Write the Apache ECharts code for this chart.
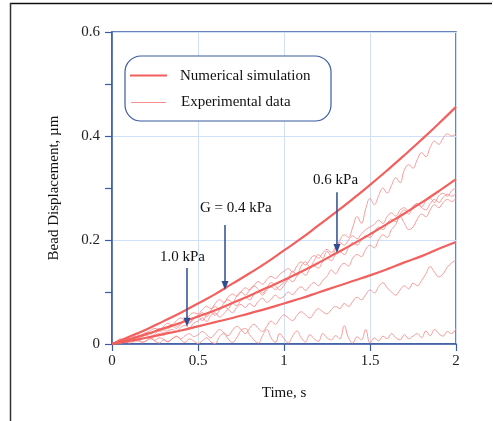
<!DOCTYPE html>
<html><head><meta charset="utf-8">
<script src="https://cdn.jsdelivr.net/npm/echarts@6/dist/echarts.min.js"></script>
<style>html,body{margin:0;padding:0;background:#fff}#c{width:493px;height:421px}</style>
</head><body><div id="c"></div>
<script>
// ---------- data ----------
const simTime = [0,0.1,0.2,0.3,0.4,0.5,0.6,0.7,0.8,0.9,1.0,1.1,1.2,1.3,1.4,1.5,1.6,1.7,1.8,1.9,2.0];
const simG04 = [0,0.014,0.028,0.044,0.060,0.078,0.096,0.116,0.136,0.157,0.180,0.203,0.228,0.253,0.279,0.306,0.334,0.363,0.393,0.424,0.456];
const simG06 = [0,0.009,0.019,0.030,0.041,0.053,0.065,0.079,0.093,0.108,0.123,0.139,0.156,0.174,0.192,0.211,0.231,0.251,0.272,0.294,0.317];
const simG10 = [0,0.006,0.012,0.019,0.026,0.034,0.042,0.050,0.059,0.068,0.078,0.088,0.099,0.110,0.121,0.132,0.144,0.157,0.169,0.183,0.196];

const expStep = 0.025; // experimental samples every 0.025 s from 0 to 2 s
const expA = [0,0.004,0.008,0.006,0.012,0.015,0.012,0.018,0.022,0.019,0.025,0.03,0.026,0.032,0.038,0.034,0.04,0.046,0.042,0.05,0.055,
  0.06,0.052,0.065,0.072,0.066,0.078,0.085,0.08,0.092,0.1,0.094,0.104,0.112,0.105,0.098,0.108,0.118,0.112,0.104,0.113,
  0.125,0.14,0.132,0.15,0.158,0.148,0.16,0.172,0.165,0.178,0.17,0.182,0.2,0.21,0.205,0.225,0.245,0.232,0.26,0.28,
  0.268,0.285,0.3,0.29,0.305,0.32,0.31,0.335,0.345,0.338,0.355,0.368,0.36,0.378,0.39,0.384,0.396,0.404,0.4,0.405];
const expB = [0,0.003,0.007,0.01,0.008,0.014,0.018,0.015,0.022,0.026,0.03,0.027,0.034,0.04,0.036,0.045,0.05,0.046,0.055,0.06,0.058,
  0.066,0.072,0.068,0.078,0.085,0.08,0.09,0.096,0.092,0.1,0.108,0.104,0.112,0.12,0.115,0.124,0.13,0.126,0.134,0.14,
  0.145,0.138,0.15,0.158,0.152,0.162,0.17,0.165,0.175,0.182,0.176,0.186,0.195,0.19,0.2,0.208,0.202,0.212,0.22,0.225,
  0.23,0.238,0.232,0.245,0.252,0.246,0.258,0.262,0.255,0.265,0.27,0.264,0.275,0.28,0.272,0.285,0.29,0.284,0.295,0.3];
const expC = [0,0.002,0.005,0.003,0.008,0.011,0.009,0.014,0.017,0.013,0.02,0.025,0.021,0.028,0.034,0.03,0.038,0.044,0.04,0.048,0.052,
  0.045,0.056,0.062,0.055,0.065,0.072,0.068,0.078,0.074,0.084,0.09,0.085,0.095,0.1,0.094,0.104,0.11,0.105,0.112,0.118,
  0.125,0.12,0.13,0.138,0.132,0.144,0.15,0.146,0.158,0.165,0.16,0.172,0.178,0.172,0.185,0.195,0.19,0.2,0.208,0.205,
  0.215,0.225,0.22,0.232,0.24,0.235,0.25,0.258,0.25,0.262,0.27,0.262,0.258,0.27,0.278,0.272,0.282,0.288,0.284,0.29];
const expD = [0,0.002,0.004,0.002,0.006,0.008,0.005,0.01,0.013,0.01,0.016,0.02,0.017,0.024,0.028,0.024,0.032,0.036,0.031,0.04,0.044,
  0.05,0.043,0.055,0.06,0.052,0.058,0.066,0.06,0.07,0.076,0.07,0.078,0.072,0.082,0.088,0.08,0.086,0.094,0.088,0.092,
  0.1,0.095,0.104,0.11,0.103,0.112,0.118,0.112,0.122,0.13,0.142,0.135,0.148,0.155,0.15,0.165,0.172,0.168,0.182,0.19,
  0.185,0.2,0.21,0.205,0.22,0.23,0.245,0.232,0.22,0.225,0.24,0.25,0.245,0.258,0.268,0.262,0.272,0.278,0.274,0.28];
const expE = [0,0.003,0.001,0.004,0.002,0.005,0.008,0.004,0.006,0.01,0.007,0.012,0.009,0.005,0.01,0.014,0.01,0.016,0.02,0.014,0.018,
  0.024,0.018,0.012,0.02,0.028,0.022,0.016,0.026,0.034,0.028,0.02,0.03,0.038,0.03,0.024,0.034,0.044,0.038,0.048,0.056,
  0.05,0.045,0.055,0.062,0.056,0.05,0.06,0.068,0.062,0.058,0.066,0.072,0.068,0.078,0.072,0.082,0.09,0.085,0.095,0.104,
  0.098,0.11,0.118,0.108,0.1,0.094,0.104,0.112,0.106,0.117,0.112,0.122,0.135,0.149,0.138,0.129,0.135,0.148,0.156,0.162];
const expF = [0,0.005,0.01,0.006,0.012,0.004,0.008,0.002,0.007,0.012,0.005,0.002,0.008,0.004,0.01,0.015,0.008,0.003,0.01,0.006,0.001,
  0.006,0.012,0.004,0.001,0.014,0.02,0.01,0.003,0.012,0.026,0.03,0.018,0.008,0.002,0.016,0.028,0.012,0.003,0.02,0.01,
  0.002,0.015,0.025,0.012,0.004,0.018,0.01,0.005,0.02,0.012,0.008,0.016,0.01,0.035,0.012,0.002,0.014,0.008,0.028,0.002,
  0.012,0.006,0.015,0.01,0.02,0.012,0.008,0.018,0.01,0.015,0.02,0.012,0.025,0.016,0.028,0.02,0.015,0.024,0.02,0.03];

const xTicks = [0, 0.5, 1, 1.5, 2];
const yTicks = [0, 0.2, 0.4, 0.6];
const annotations = [
  {text: 'G = 0.4 kPa', x: 0.657, yFrom: 0.229, yTo: 0.104, labelY: 0.262, labelX: 0.72},
  {text: '1.0 kPa',     x: 0.436, yFrom: 0.146, yTo: 0.033, labelY: 0.168, labelX: 0.41},
  {text: '0.6 kPa',     x: 1.308, yFrom: 0.292, yTo: 0.175, labelY: 0.315, labelX: 1.30}
];

// ---------- build ----------
const AXIS = '#3a5ba0', GRIDC = '#cfe0f8', SIM = '#f2605e', EXP = '#f69090', ARROW = '#2d4d90';
const FONT = '"Liberation Serif", "Times New Roman", serif';
const FS = 15;
const pair = (xs, ys) => ys.map((v, i) => [xs[i], v]);
const expPair = ys => ys.map((v, i) => [+(i * expStep).toFixed(3), v]);

const series = [];
[expA, expB, expC, expD, expE, expF].forEach(d => series.push({
  name: 'Experimental data', type: 'line', data: expPair(d), showSymbol: false, smooth: 0.4,
  lineStyle: {color: EXP, width: 0.9}, z: 2, silent: true
}));
[simG04, simG06, simG10].forEach(d => series.push({
  name: 'Numerical simulation', type: 'line', data: pair(simTime, d), showSymbol: false, smooth: true,
  lineStyle: {color: SIM, width: 2.2}, z: 3, silent: true
}));

const chart = echarts.init(document.getElementById('c'), null, {renderer: 'canvas'});
chart.setOption({
  animation: false,
  grid: {left: 112, top: 32, right: 37, bottom: 77, show: true, borderColor: AXIS, borderWidth: 1.5, backgroundColor: 'transparent'},
  xAxis: {
    type: 'value', min: xTicks[0], max: xTicks[xTicks.length - 1], interval: 0.5,
    name: 'Time, s', nameLocation: 'middle', nameGap: 42,
    nameTextStyle: {fontFamily: FONT, fontSize: FS, color: '#111'},
    axisLine: {lineStyle: {color: AXIS, width: 1.5}},
    axisTick: {show: true, length: 7, lineStyle: {color: AXIS, width: 1.2}},
    axisLabel: {fontFamily: FONT, fontSize: FS, color: '#222', margin: 10,
      formatter: v => String(v)},
    splitLine: {show: true, lineStyle: {color: GRIDC, width: 1}}
  },
  yAxis: {
    type: 'value', min: yTicks[0], max: yTicks[yTicks.length - 1], interval: 0.2,
    name: 'Bead Displacement, µm', nameLocation: 'middle', nameGap: 50, nameRotate: 90,
    nameTextStyle: {fontFamily: FONT, fontSize: FS, color: '#111'},
    axisLine: {lineStyle: {color: AXIS, width: 1.5}},
    axisTick: {show: true, length: 7, lineStyle: {color: AXIS, width: 1.2}},
    minorTick: {show: true, splitNumber: 2, length: 7, lineStyle: {color: AXIS, width: 1.2}},
    axisLabel: {fontFamily: FONT, fontSize: FS, color: '#222', margin: 12,
      formatter: v => String(+v.toFixed(1))},
    splitLine: {show: true, lineStyle: {color: GRIDC, width: 1}}
  },
  series: series
});

// annotation arrows, texts, legend box
const g = [];
annotations.forEach(a => {
  const p = chart.convertToPixel({gridIndex: 0}, [a.labelX, a.labelY]);
  const s = chart.convertToPixel({gridIndex: 0}, [a.x, a.yFrom]);
  const e = chart.convertToPixel({gridIndex: 0}, [a.x, a.yTo]);
  g.push({type: 'text', x: p[0], y: p[1], z: 10,
    style: {text: a.text, font: FS + 'px ' + FONT, fill: '#111', align: 'center', verticalAlign: 'middle'}});
  g.push({type: 'line', shape: {x1: s[0], y1: s[1], x2: e[0], y2: e[1] - 6}, z: 10,
    style: {stroke: ARROW, lineWidth: 1.5}});
  g.push({type: 'polygon', z: 10,
    shape: {points: [[e[0] - 3.5, e[1] - 9], [e[0] + 3.5, e[1] - 9], [e[0], e[1]]]},
    style: {fill: ARROW}});
});
g.push({type: 'rect', shape: {x: 125, y: 56, width: 206, height: 65, r: 16}, z: 10,
  style: {fill: '#fff', stroke: AXIS, lineWidth: 1.2}});
g.push({type: 'line', shape: {x1: 130, y1: 75.5, x2: 167, y2: 75.5}, z: 11, style: {stroke: SIM, lineWidth: 2.2}});
g.push({type: 'line', shape: {x1: 131, y1: 102.5, x2: 166, y2: 102.5}, z: 11, style: {stroke: EXP, lineWidth: 1}});
g.push({type: 'text', x: 180, y: 76, z: 11, style: {text: 'Numerical simulation', font: FS + 'px ' + FONT, fill: '#111', verticalAlign: 'middle'}});
g.push({type: 'text', x: 181, y: 102, z: 11, style: {text: 'Experimental data', font: FS + 'px ' + FONT, fill: '#111', verticalAlign: 'middle'}});
// outer frame (top and left edges)
g.push({type: 'line', shape: {x1: 10, y1: 3.5, x2: 492, y2: 3.5}, z: 12, style: {stroke: '#111', lineWidth: 1.5}});
g.push({type: 'line', shape: {x1: 10.5, y1: 3, x2: 10.5, y2: 421}, z: 12, style: {stroke: '#333', lineWidth: 1.5}});
chart.setOption({graphic: g});
</script></body></html>
